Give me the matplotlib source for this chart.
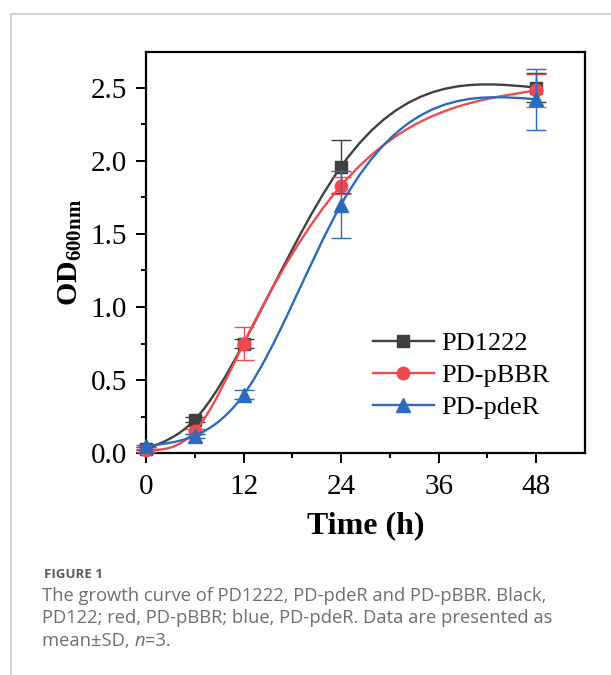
import numpy as np
import matplotlib
matplotlib.use("Agg")
from matplotlib import pyplot as plt
from matplotlib.path import Path
from matplotlib.patches import PathPatch
from matplotlib.lines import Line2D

# data
time_h = [0, 6, 12, 24, 48]
labels = ["PD1222", "PD-pBBR", "PD-pdeR"]
od_pd1222 = [0.03, 0.23, 0.75, 1.96, 2.50]
od_pbbr = [0.02, 0.15, 0.75, 1.83, 2.48]
od_pder = [0.05, 0.12, 0.40, 1.70, 2.42]
sd_pd1222 = [0.01, 0.015, 0.03, 0.18, 0.10]
sd_pbbr = [0.01, 0.015, 0.11, 0.06, 0.115]
sd_pder = [0.01, 0.015, 0.03, 0.23, 0.21]

colors = ["#404040", "#ef4a4e", "#2a6bbd"]
markers = ["s", "o", "^"]
msizes = [8, 9, 10]

plt.rcParams["font.family"] = ["Liberation Serif", "DejaVu Serif"]
plt.rcParams["mathtext.fontset"] = "custom"
plt.rcParams["mathtext.rm"] = "Liberation Serif"
plt.rcParams["mathtext.bf"] = "Liberation Serif:bold"


def spline_path(x, y):
    # natural cubic spline through the points, as bezier segments
    x = np.asarray(x, float)
    y = np.asarray(y, float)
    n = len(x) - 1
    h = np.diff(x)
    A = np.zeros((n + 1, n + 1))
    r = np.zeros(n + 1)
    A[0, 0] = 1
    A[n, n] = 1
    for i in range(1, n):
        A[i, i - 1] = h[i - 1]
        A[i, i] = 2 * (h[i - 1] + h[i])
        A[i, i + 1] = h[i]
        r[i] = 6 * ((y[i + 1] - y[i]) / h[i] - (y[i] - y[i - 1]) / h[i - 1])
    M = np.linalg.solve(A, r)
    m = np.zeros(n + 1)
    for i in range(n):
        m[i] = (y[i + 1] - y[i]) / h[i] - h[i] * (2 * M[i] + M[i + 1]) / 6
    m[n] = (y[n] - y[n - 1]) / h[n - 1] + h[n - 1] * (M[n - 1] + 2 * M[n]) / 6
    verts = [(x[0], y[0])]
    codes = [Path.MOVETO]
    for i in range(n):
        verts += [(x[i] + h[i] / 3, y[i] + h[i] * m[i] / 3),
                  (x[i + 1] - h[i] / 3, y[i + 1] - h[i] * m[i + 1] / 3),
                  (x[i + 1], y[i + 1])]
        codes += [Path.CURVE4] * 3
    return Path(verts, codes)


fig = plt.figure(figsize=(6.11, 6.75), dpi=100)
ax = fig.add_axes([146 / 611, 221.7 / 675, 439 / 611, 401.6 / 675])

series = [(od_pd1222, sd_pd1222), (od_pbbr, sd_pbbr), (od_pder, sd_pder)]
handles = []
for k, (od, sd) in enumerate(series):
    ax.add_patch(PathPatch(spline_path(time_h, od), facecolor="none",
                           edgecolor=colors[k], lw=1.7, zorder=3 + k))
    ax.errorbar(time_h, od, yerr=sd, fmt=markers[k], color=colors[k],
                ms=msizes[k], mec=colors[k], elinewidth=1.0, capsize=7,
                capthick=1.0, zorder=3 + k, clip_on=False)
    handles.append(Line2D([], [], color=colors[k], lw=1.7, marker=markers[k],
                          ms=msizes[k]))

ax.set_xlim(0, 54)
ax.set_ylim(0, 2.745)
ax.set_xticks([0, 12, 24, 36, 48])
ax.set_xticks([6, 18, 30, 42], minor=True)
ax.set_yticks([0, 0.5, 1.0, 1.5, 2.0, 2.5])
ax.set_yticks(np.arange(0.25, 2.6, 0.5), minor=True)
ax.set_yticklabels(["0.0", "0.5", "1.0", "1.5", "2.0", "2.5"])
for s in ax.spines.values():
    s.set_linewidth(1.6)
ax.tick_params(which="major", direction="out", length=7.5, width=1.4,
               labelsize=21)
ax.tick_params(which="minor", direction="out", length=3.8, width=1.4)
ax.tick_params(axis="x", which="major", pad=7.5)
ax.tick_params(axis="y", which="major", pad=6)
ax.tick_params(top=False, right=False)

ax.set_xlabel("Time (h)", fontsize=23, fontweight="bold", labelpad=8)
ax.set_ylabel(r"$\mathbf{OD_{600nm}}$", fontsize=21.5, labelpad=4.5)

ax.legend(handles, labels, loc="upper left",
          bbox_to_anchor=(373 / 611, (675 - 332) / 675),
          bbox_transform=fig.transFigure, frameon=False, fontsize=19,
          handlelength=2.3, handletextpad=0.28, labelspacing=0.31,
          borderpad=0, borderaxespad=0)

# page border
fig.add_artist(Line2D([11 / 611, 1], [1 - 14 / 675, 1 - 14 / 675],
                      color="#c8c8c8", lw=1.2, transform=fig.transFigure))
fig.add_artist(Line2D([11 / 611, 11 / 611], [0, 1 - 14 / 675],
                      color="#c8c8c8", lw=1.2, transform=fig.transFigure))

# caption
cap_font = ["Open Sans", "DejaVu Sans"]
cap_col = "#6e6e6e"
fig.text(44 / 611, 1 - 578 / 675, "FIGURE 1", family=cap_font,
         fontsize=9.5, fontweight="bold", color="#5a5a5a", va="baseline")
lines = ["The growth curve of PD1222, PD-pdeR and PD-pBBR. Black,",
         "PD122; red, PD-pBBR; blue, PD-pdeR. Data are presented as"]
for i, t in enumerate(lines):
    fig.text(42 / 611, 1 - (600.7 + 22.5 * i) / 675, t, family=cap_font,
             fontsize=13.2, color=cap_col, va="baseline")
t1 = fig.text(42 / 611, 1 - (600.7 + 45) / 675, "mean\u00b1SD, ",
              family=cap_font, fontsize=13.2, color=cap_col, va="baseline")
t2 = plt.annotate("n", xy=(1, 0), xycoords=t1, va="bottom", ha="left",
                  family=cap_font, fontsize=13.2, style="italic",
                  color=cap_col, annotation_clip=False)
plt.annotate("=3.", xy=(1, 0), xycoords=t2, va="bottom", ha="left",
             family=cap_font, fontsize=13.2, color=cap_col,
             annotation_clip=False)

fig.savefig("out.png", dpi=100)
